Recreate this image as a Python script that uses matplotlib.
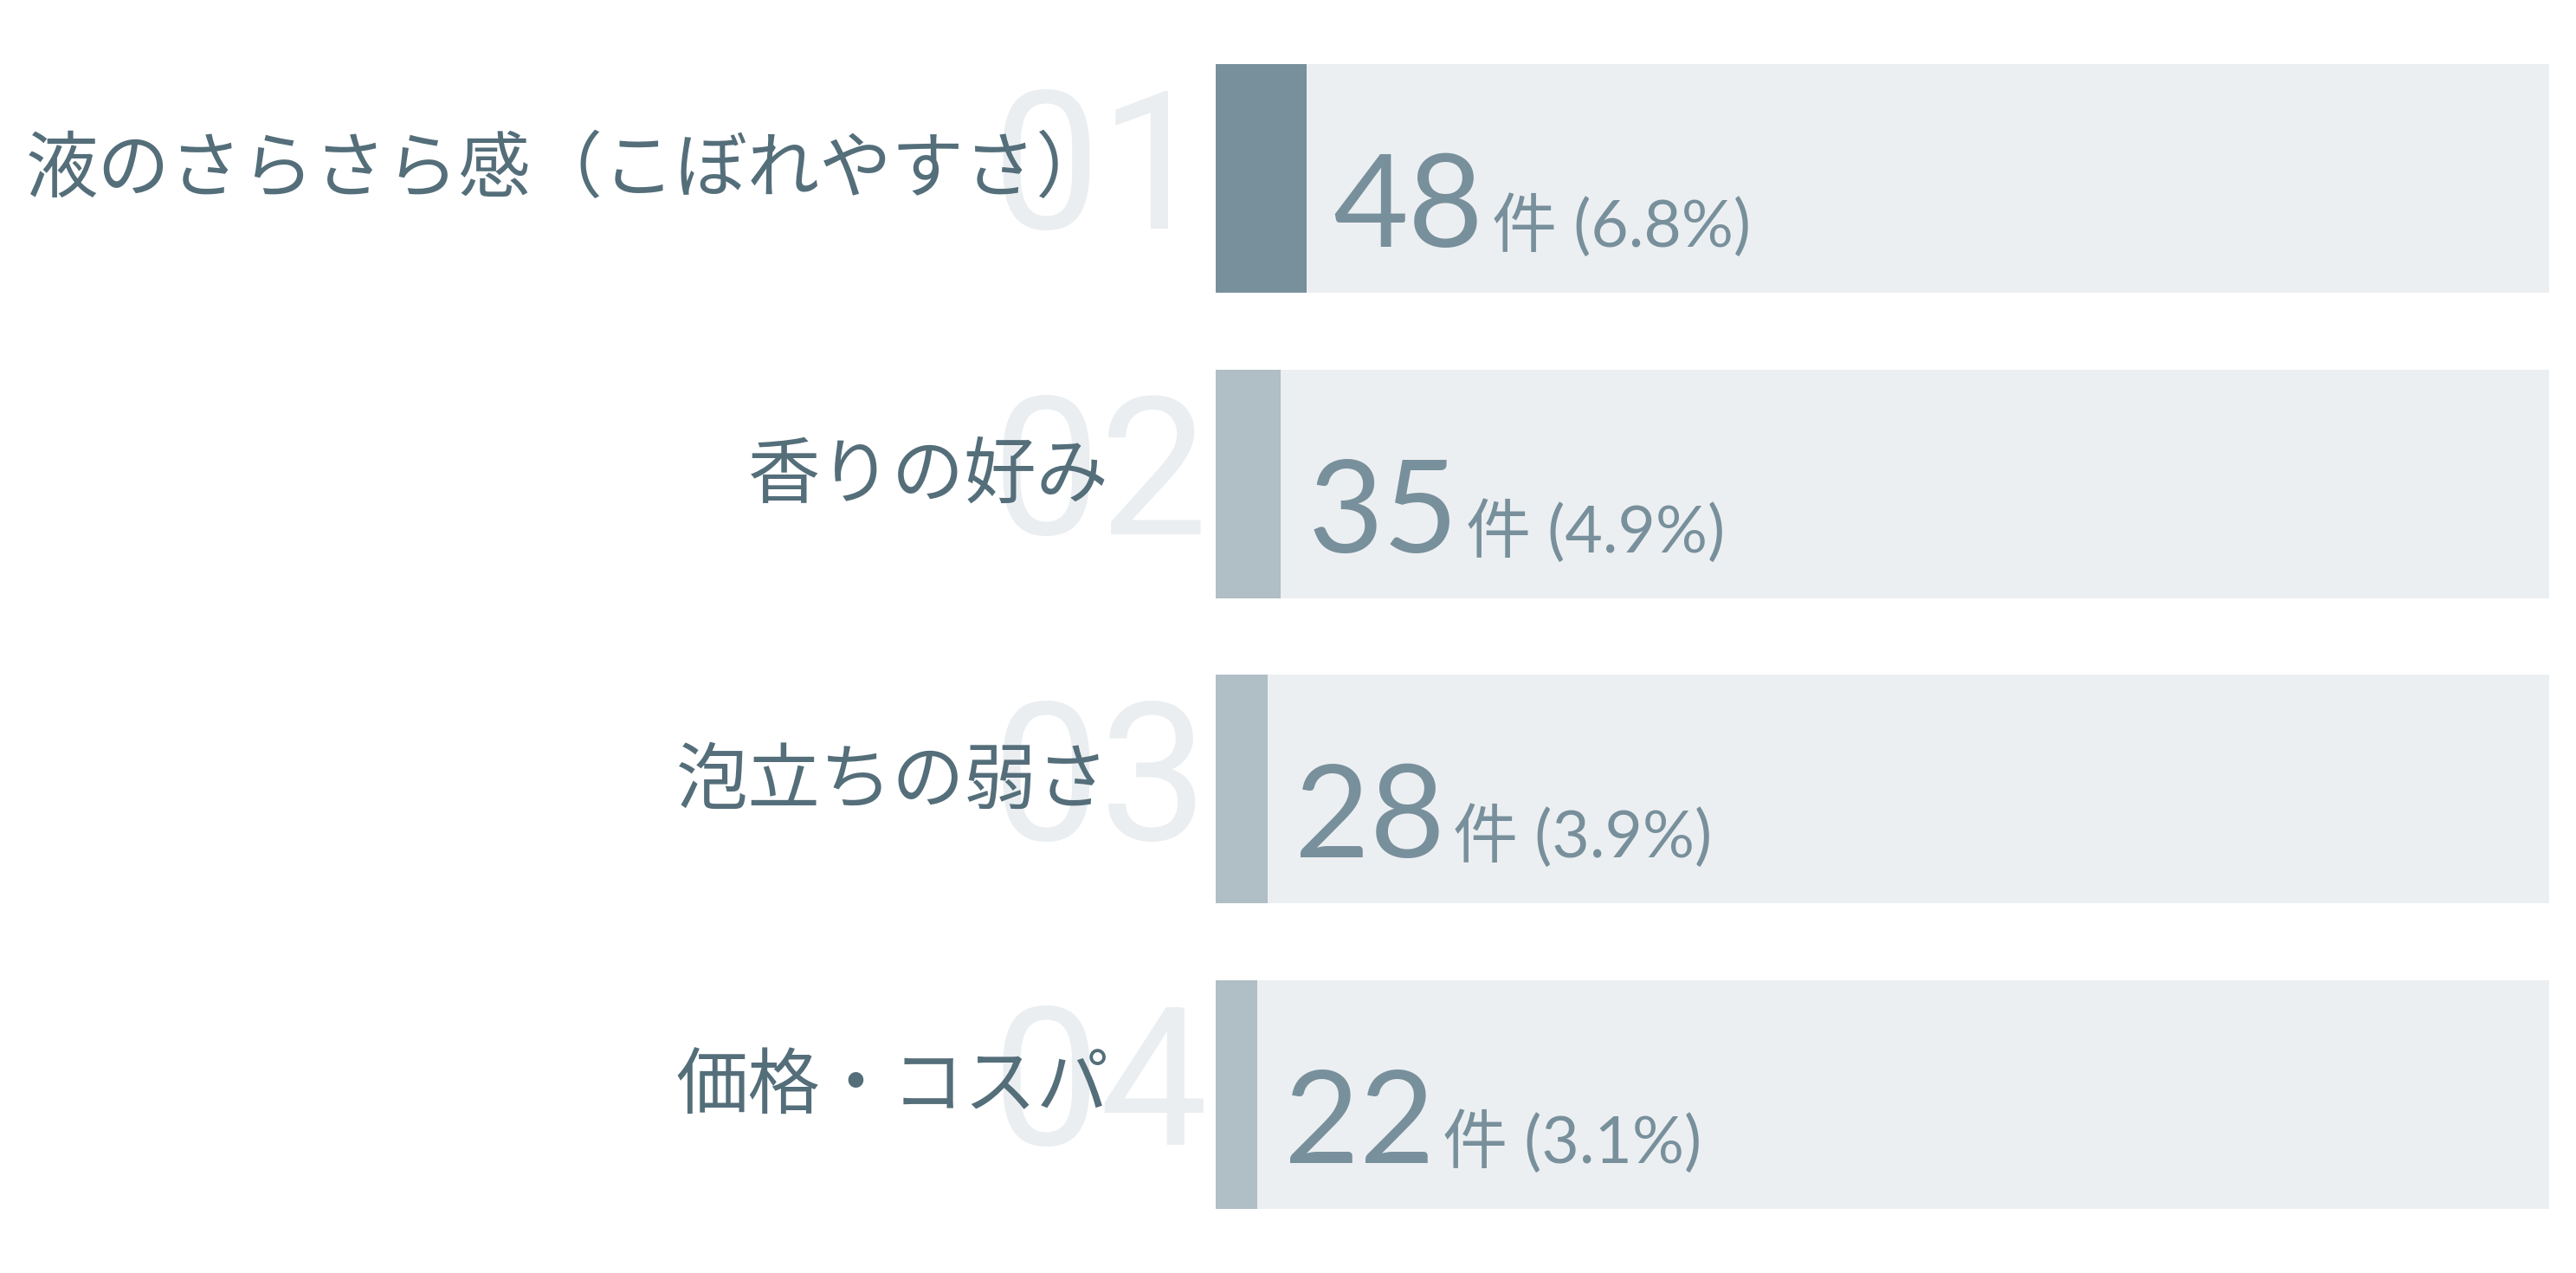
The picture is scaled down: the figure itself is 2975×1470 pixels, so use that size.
import matplotlib
matplotlib.use("Agg")
import matplotlib.pyplot as plt

labels = ["液のさらさら感（こぼれやすさ）", "香りの好み", "泡立ちの弱さ", "価格・コスパ"]
ranks = ["01", "02", "03", "04"]
counts = [48, 35, 28, 22]
percents = [6.8, 4.9, 3.9, 3.1]

W, H = 2975, 1470
fig = plt.figure(figsize=(W / 100, H / 100), dpi=100)
fig.patch.set_facecolor("white")

ax = fig.add_axes([1404 / W, 1 - 1396 / H, (2944 - 1404) / W, (1396 - 74) / H])
bh = 0.748
ypos = list(range(len(labels)))
colors = ["#78909C"] + ["#B0BEC5"] * (len(labels) - 1)

ax.barh(ypos, [100] * len(labels), height=bh, color="#ECEFF1", zorder=1)
ax.barh(ypos, percents, height=bh, color=colors, zorder=2)
ax.set_xlim(0, 100)
ax.set_ylim(len(labels) - 1 + bh / 2, -bh / 2)
ax.axis("off")

for i, (lab, rk) in enumerate(zip(labels, ranks)):
    ax.text(-16.8, i + 0.165, rk, fontsize=160, family="Roboto", fontweight="normal",
            color="#EAEEF1", ha="left", va="baseline", zorder=0, clip_on=False)
    ax.text(-8.0, i - 0.025, lab, fontsize=60, family=["Noto Sans CJK JP", "DejaVu Sans"],
            color="#546E7A", ha="right", va="center", zorder=5, clip_on=False)

num_texts = []
for i, (c, p) in enumerate(zip(counts, percents)):
    t = ax.text(p + 2.0, i + 0.224, str(c), fontsize=108, family="Lato",
                color="#78909C", ha="left", va="baseline", zorder=5)
    num_texts.append(t)

fig.canvas.draw()
renderer = fig.canvas.get_renderer()
inv = ax.transData.inverted()
for i, (t, p) in enumerate(zip(num_texts, percents)):
    bb = t.get_window_extent(renderer)
    xend = inv.transform((bb.x1, 0))[0]
    ax.text(xend + 0.6, i + 0.224, f"件 ({p:.1f}%)", fontsize=54,
            family=["Lato", "Noto Sans CJK JP"], color="#78909C",
            ha="left", va="baseline", zorder=5)

fig.savefig("out.png", dpi=100, facecolor="white")
